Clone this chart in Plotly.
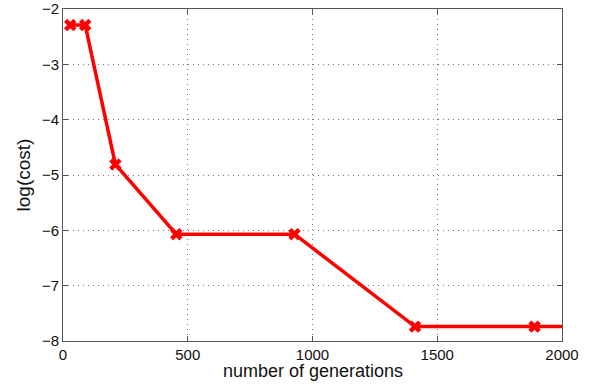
import plotly.graph_objects as go

generations = [29, 89, 210, 454, 928, 1411, 1890, 2000]
log_cost = [-2.29, -2.29, -4.81, -6.07, -6.07, -7.74, -7.74, -7.74]
marker_sizes = [11, 11, 11, 11, 11, 11, 11, 0]

x_ticks = [0, 500, 1000, 1500, 2000]
y_ticks = [-8, -7, -6, -5, -4, -3, -2]
x_title = "number of generations"
y_title = "log(cost)"

fig = go.Figure()
fig.add_trace(go.Scatter(
    x=generations, y=log_cost, mode="lines+markers",
    line=dict(color="#ff0000", width=3.5),
    marker=dict(symbol="x", size=marker_sizes, color="#ff0000", opacity=1,
                line=dict(width=0)),
    cliponaxis=True, showlegend=False,
))

axis_common = dict(
    showline=True, linecolor="#555555", linewidth=1, mirror="ticks",
    ticks="inside", ticklen=5, tickcolor="#555555",
    showgrid=True, gridcolor="#777777", griddash="1px,4px", gridwidth=1,
    zeroline=False, automargin=False,
    tickfont=dict(family="Liberation Sans, Arial", size=15, color="#111111"),
)

fig.update_layout(
    width=602, height=384,
    margin=dict(l=63, r=40, t=9, b=43),
    paper_bgcolor="white", plot_bgcolor="white",
    xaxis=dict(range=[0, 2000], tickvals=x_ticks, ticktext=[str(v) for v in x_ticks],
               **axis_common),
    yaxis=dict(range=[-8, -2], tickvals=y_ticks,
               title=dict(text=y_title, standoff=6,
                          font=dict(family="Liberation Sans, Arial", size=19, color="#111111")),
               **axis_common),
)
fig.add_annotation(
    text=x_title, xref="paper", yref="paper", x=0.5, y=0,
    xanchor="center", yanchor="top", yshift=-19, showarrow=False, borderpad=0,
    font=dict(family="Liberation Sans, Arial", size=18, color="#111111"),
)

fig.write_html("out.html")
